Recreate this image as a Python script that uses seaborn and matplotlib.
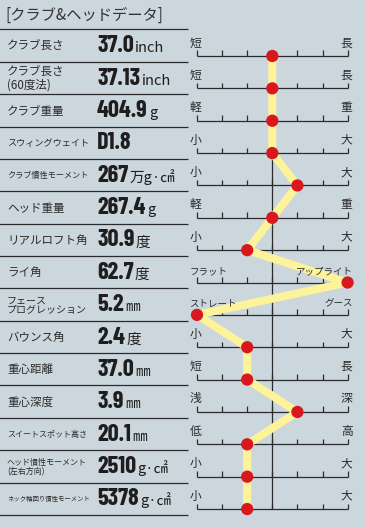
import matplotlib
matplotlib.use("Agg")
import numpy as np
import pandas as pd
import matplotlib.pyplot as plt
import seaborn as sns
from matplotlib import font_manager
from matplotlib.offsetbox import TextArea, HPacker, AnnotationBbox

# chart data
items = ["クラブ長さ", "クラブ長さ\n(60度法)", "クラブ重量", "スウィングウェイト",
         "クラブ慣性モーメント", "ヘッド重量", "リアルロフト角", "ライ角",
         "フェース\nプログレッション", "バウンス角", "重心距離", "重心深度",
         "スイートスポット高さ", "ヘッド慣性モーメント\n(左右方向)", "ネック軸回り慣性モーメント"]
values = ["37.0", "37.13", "404.9", "D1.8", "267", "267.4", "30.9", "62.7",
          "5.2", "2.4", "37.0", "3.9", "20.1", "2510", "5378"]
units = ["inch", "inch", "g", "", "万g·㎠", "g", "度", "度", "㎜", "度", "㎜", "㎜", "㎜", "g·㎠", "g·㎠"]
low_labels = ["短", "短", "軽", "小", "小", "軽", "小", "フラット", "ストレート", "小", "短", "浅", "低", "小", "小"]
high_labels = ["長", "長", "重", "大", "大", "重", "大", "アップライト", "グース", "大", "長", "深", "高", "大", "大"]
scale_pos = [3, 3, 3, 3, 4, 3, 2, 6, 0, 2, 2, 4, 2, 2, 2]
item_sizes = [8.3, 8.3, 8.3, 6.6, 5.9, 8.3, 8.3, 8.3, 7.2, 8.3, 8.3, 8.3, 5.8, 5.8, 4.6]

df = pd.DataFrame({"pos": scale_pos, "row": np.arange(len(items))})

sns.set_theme(style="white")
plt.rcParams['font.family'] = ['Noto Sans CJK JP', 'DejaVu Sans']


def has_font(name):
    try:
        font_manager.findfont(font_manager.FontProperties(family=name), fallback_to_default=False)
        return True
    except ValueError:
        return False


# condensed bold face for the big numbers
if has_font("Barlow Condensed"):
    num_font = dict(family="Barlow Condensed", fontweight="bold", fontsize=17.5)
elif has_font("Liberation Sans Narrow"):
    num_font = dict(family="Liberation Sans Narrow", fontweight="bold", fontsize=16)
else:
    num_font = dict(family="DejaVu Sans", fontstretch="condensed", fontweight="bold", fontsize=13)

bg = "#cbd6dd"
ink = "#2b2b2b"
yellow = "#fdf39b"
red = "#d8171e"

fig = plt.figure(figsize=(3.65, 5.27), dpi=100, facecolor=bg)
ax = fig.add_axes([0, 0, 1, 1])
ax.set_facecolor(bg)
ax.axis("off")
ax.set_xlim(-197 / 25.1, (365 - 197) / 25.1)
ax.set_ylim((527 - 56) / 32.36, -56 / 32.36)

n = len(items)

# left table dividers
for k in range(n + 1):
    ax.plot([-7.9, -0.36], [k - 0.82, k - 0.82], color=ink, lw=0.9, solid_capstyle="butt")

# scale rulers
for i in range(n):
    ax.plot([0, 6], [i, i], color=ink, lw=0.9, solid_capstyle="butt")
    ax.vlines(np.arange(7), i - 0.17, i, color=ink, lw=0.9)
    ax.text(-0.3, i - 0.2, low_labels[i], fontsize=8.5 if len(low_labels[i]) == 1 else 6.8,
            color=ink, ha="left", va="bottom", zorder=5)
    ax.text(6.2, i - 0.2, high_labels[i], fontsize=8.5 if len(high_labels[i]) == 1 else 6.8,
            color=ink, ha="right", va="bottom", zorder=5)
ax.plot([3, 3], [0, n - 1], color=ink, lw=0.9, zorder=1)

# profile line and dots
sns.lineplot(data=df, x="pos", y="row", sort=False, estimator=None, color=yellow,
             linewidth=5.8, ax=ax, zorder=3)
sns.scatterplot(data=df, x="pos", y="row", color=red, s=78, edgecolor="none", ax=ax, zorder=4)

# left texts
for i in range(n):
    yc = i - 0.3
    ax.text(-7.57, yc, items[i], fontsize=item_sizes[i], color=ink, ha="left", va="center",
            linespacing=0.95)
    parts = [TextArea(values[i], textprops=dict(color="#1e1e1e", **num_font))]
    if units[i]:
        parts.append(TextArea(units[i], textprops=dict(fontsize=10.5, color="#1e1e1e")))
    box = HPacker(children=parts, align="baseline", pad=0, sep=1)
    ab = AnnotationBbox(box, (-3.98, yc), xycoords="data", box_alignment=(0, 0.5),
                        frameon=False, pad=0)
    ax.add_artist(ab)

ax.text(-7.65, -1.27, "[クラブ&ヘッドデータ]", fontsize=11, color="#333333",
        ha="left", va="center")

fig.savefig("out.png", dpi=100, facecolor=bg)
